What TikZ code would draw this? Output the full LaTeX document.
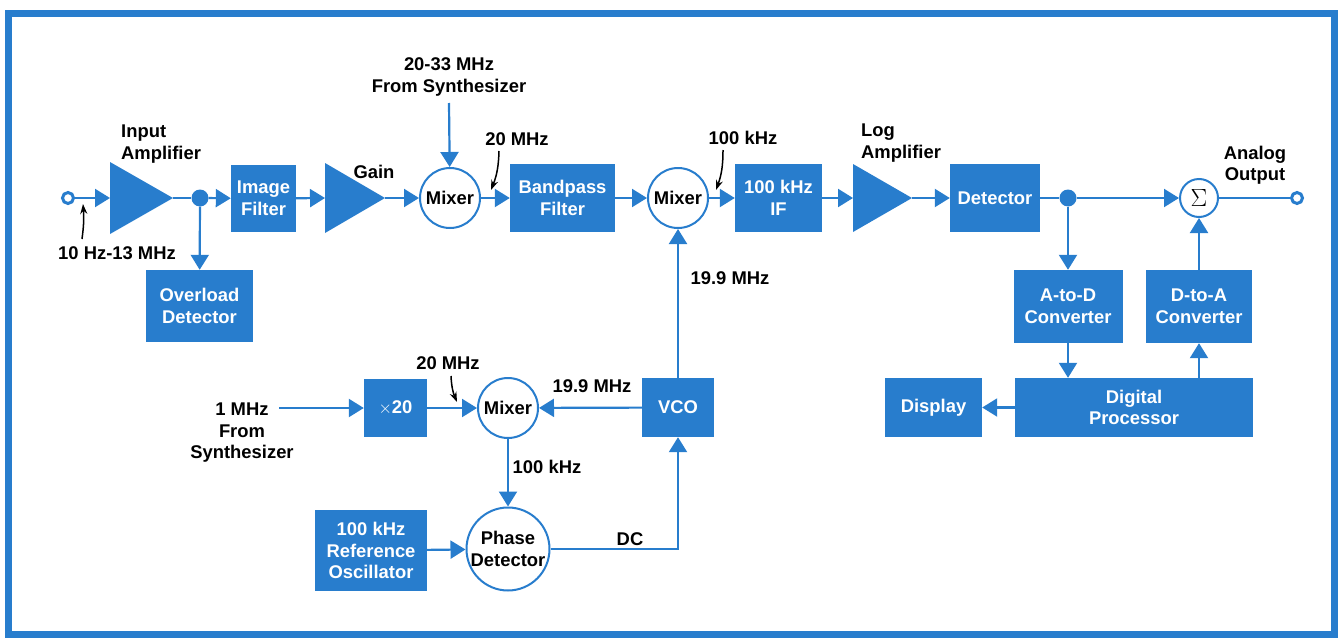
\documentclass[tikz,border=0pt]{standalone}
\usepackage{fontspec}
\setmainfont{Liberation Sans}
\usetikzlibrary{arrows.meta, positioning, calc}
\definecolor{hpblue}{RGB}{40,125,205}

\begin{document}
\begin{tikzpicture}[%
    x=1pt, y=-1pt,
    >={Triangle[length=15pt,width=18pt]},
    every node/.style={%
      font=\bfseries\fontsize{18.4}{21.5}\selectfont,
      text=black,
      align=center,
      inner sep=0pt
    },
    block/.style={fill=hpblue, text=white},
    mixer/.style={circle, draw=hpblue, line width=2pt, fill=white, minimum size=60pt},
    wire/.style={draw=hpblue, line width=2.2pt},
    pointer/.style={draw=black, line width=1.5pt, -{Stealth[length=10pt,width=7pt]}},
    junction/.style={circle, fill=hpblue, minimum size=17pt},
    terminal/.style={circle, draw=hpblue, line width=3pt, fill=white, minimum size=11pt}
  ]

  \useasboundingbox (0,0) rectangle (1338,637);
  \draw[hpblue, line width=7pt] (8.5,13) rectangle (1334,634);

  % Front end
  \node[terminal] (inp) at (68,198) {};
  \fill[hpblue] (110,162) -- (173,198) -- (110,234) -- cycle;
  \coordinate (ampAin) at (110,198);
  \coordinate (ampAout) at (173,198);
  \node[junction] (jA) at (200,198) {};
  \node[block, minimum width=65pt, minimum height=67pt] (imgf) at (263.5,198.5) {Image\\Filter};
  \node[block, minimum width=107pt, minimum height=72pt] (ovl) at (199.5,306) {Overload\\Detector};
  \fill[hpblue] (325,163) -- (385,198) -- (325,233) -- cycle;
  \coordinate (gainin) at (325,198);
  \coordinate (gainout) at (385,198);
  \node[mixer] (mixa) at (450,198) {Mixer};
  \node[block, minimum width=105pt, minimum height=68pt] (bpf) at (562.5,198) {Bandpass\\Filter};
  \node[mixer] (mixb) at (678,198) {Mixer};
  \node[block, minimum width=87pt, minimum height=68pt] (iff) at (778.5,198) {100 kHz\\IF};
  \fill[hpblue] (853,164) -- (912,198) -- (853,232) -- cycle;
  \coordinate (login) at (853,198);
  \coordinate (logout) at (912,198);
  \node[block, minimum width=90pt, minimum height=68pt] (det) at (995,198) {Detector};
  \node[junction] (jB) at (1068,198) {};
  \node[mixer, minimum size=38pt, font=\fontsize{25}{25}\selectfont] (sum) at (1199,198) {$\Sigma$};
  \node[terminal] (outp) at (1297,198) {};

  % Digital section
  \node[block, minimum width=109pt, minimum height=73pt] (atod) at (1068,306.5) {A-to-D\\Converter};
  \node[block, minimum width=106pt, minimum height=73pt] (dtoa) at (1199,306.5) {D-to-A\\Converter};
  \node[block, minimum width=238pt, minimum height=59pt] (proc) at (1134,407.5) {Digital\\Processor};
  \node[block, minimum width=97pt, minimum height=59pt] (disp) at (933.5,407.5) {Display};

  % Local oscillator loop
  \coordinate (synin) at (279,408);
  \node[block, minimum width=63pt, minimum height=58pt] (mult) at (395.5,408) {$\times$20};
  \node[mixer] (mixc) at (508,408) {Mixer};
  \node[block, minimum width=72pt, minimum height=59pt] (vco) at (678,407.5) {VCO};
  \node[circle, draw=hpblue, line width=2pt, fill=white, minimum size=83pt] (phd) at (508,549) {Phase\\Detector};
  \node[block, minimum width=112pt, minimum height=81pt] (refosc) at (371,550.5) {100 kHz\\Reference\\Oscillator};

  % Labels
  \node[anchor=west, align=left] (lbinamp) at (121,144) {Input\\Amplifier};
  \node (lbgain) at (374,172) {Gain};
  \node (lbsyna) at (449,77) {20-33 MHz\\From Synthesizer};
  \node (lbf20a) at (517,139) {20 MHz};
  \node (lbf100a) at (743,138) {100 kHz};
  \node[anchor=west, align=left] (lblog) at (861,143) {Log\\Amplifier};
  \node (lbout) at (1255,165) {Analog\\Output};
  \node (lbin) at (117,253) {10 Hz-13 MHz};
  \node (lbf199a) at (730,278) {19.9 MHz};
  \node (lbf199b) at (592,386) {19.9 MHz};
  \node (lbf100b) at (547,467) {100 kHz};
  \node (lbdc) at (630,539) {DC};
  \node (lbf20b) at (448,363) {20 MHz};
  \node (lbsynb) at (242,433) {1 MHz\\From\\Synthesizer};

  % Signal path
  \draw[wire, ->] (inp) -- (ampAin);
  \draw[wire] (ampAout) -- (jA);
  \draw[wire, ->] (jA) -- (imgf);
  \draw[wire, ->] (jA) -- (ovl);
  \draw[wire, ->] (imgf) -- (gainin);
  \draw[wire, ->] (gainout) -- (mixa);
  \draw[wire, ->] (lbsyna.south |- 0,103) -- (mixa);
  \draw[wire, ->] (mixa) -- (bpf);
  \draw[wire, ->] (bpf) -- (mixb);
  \draw[wire, ->] (mixb) -- (iff);
  \draw[wire, ->] (iff) -- (login);
  \draw[wire, ->] (logout) -- (det);
  \draw[wire] (det) -- (jB);
  \draw[wire, ->] (jB) -- (sum);
  \draw[wire] (sum) -- (outp);

  \draw[wire, ->] (jB) -- (atod);
  \draw[wire, ->] (atod) -- (atod |- proc.north);
  \draw[wire, ->] (dtoa |- proc.north) -- (dtoa);
  \draw[wire, ->] (dtoa) -- (sum);
  \draw[wire, ->] (proc) -- (disp);

  \draw[wire, ->] (synin) -- (mult);
  \draw[wire, ->] (mult) -- (mixc);
  \draw[wire, ->] (mixc) -- (phd);
  \draw[wire, ->] (refosc) -- (phd);
  \draw[wire, ->] (phd) -- (vco |- phd) -- (vco);
  \draw[wire, ->] (vco) -- (mixc);
  \draw[wire, ->] (vco) -- (mixb);

  % Pointers
  \coordinate (pin) at (82,239);
  \coordinate (p20a) at (499,151);
  \coordinate (p100a) at (723,150);
  \coordinate (p20b) at (451,376);
  \draw[pointer] (pin) to[bend right=6] (83,204);
  \draw[pointer] (p20a) to[bend left=10] (491,190);
  \draw[pointer] (p100a) to[bend left=10] (716,190);
  \draw[pointer] (p20b) to[bend right=10] (457,402);

\end{tikzpicture}
\end{document}
